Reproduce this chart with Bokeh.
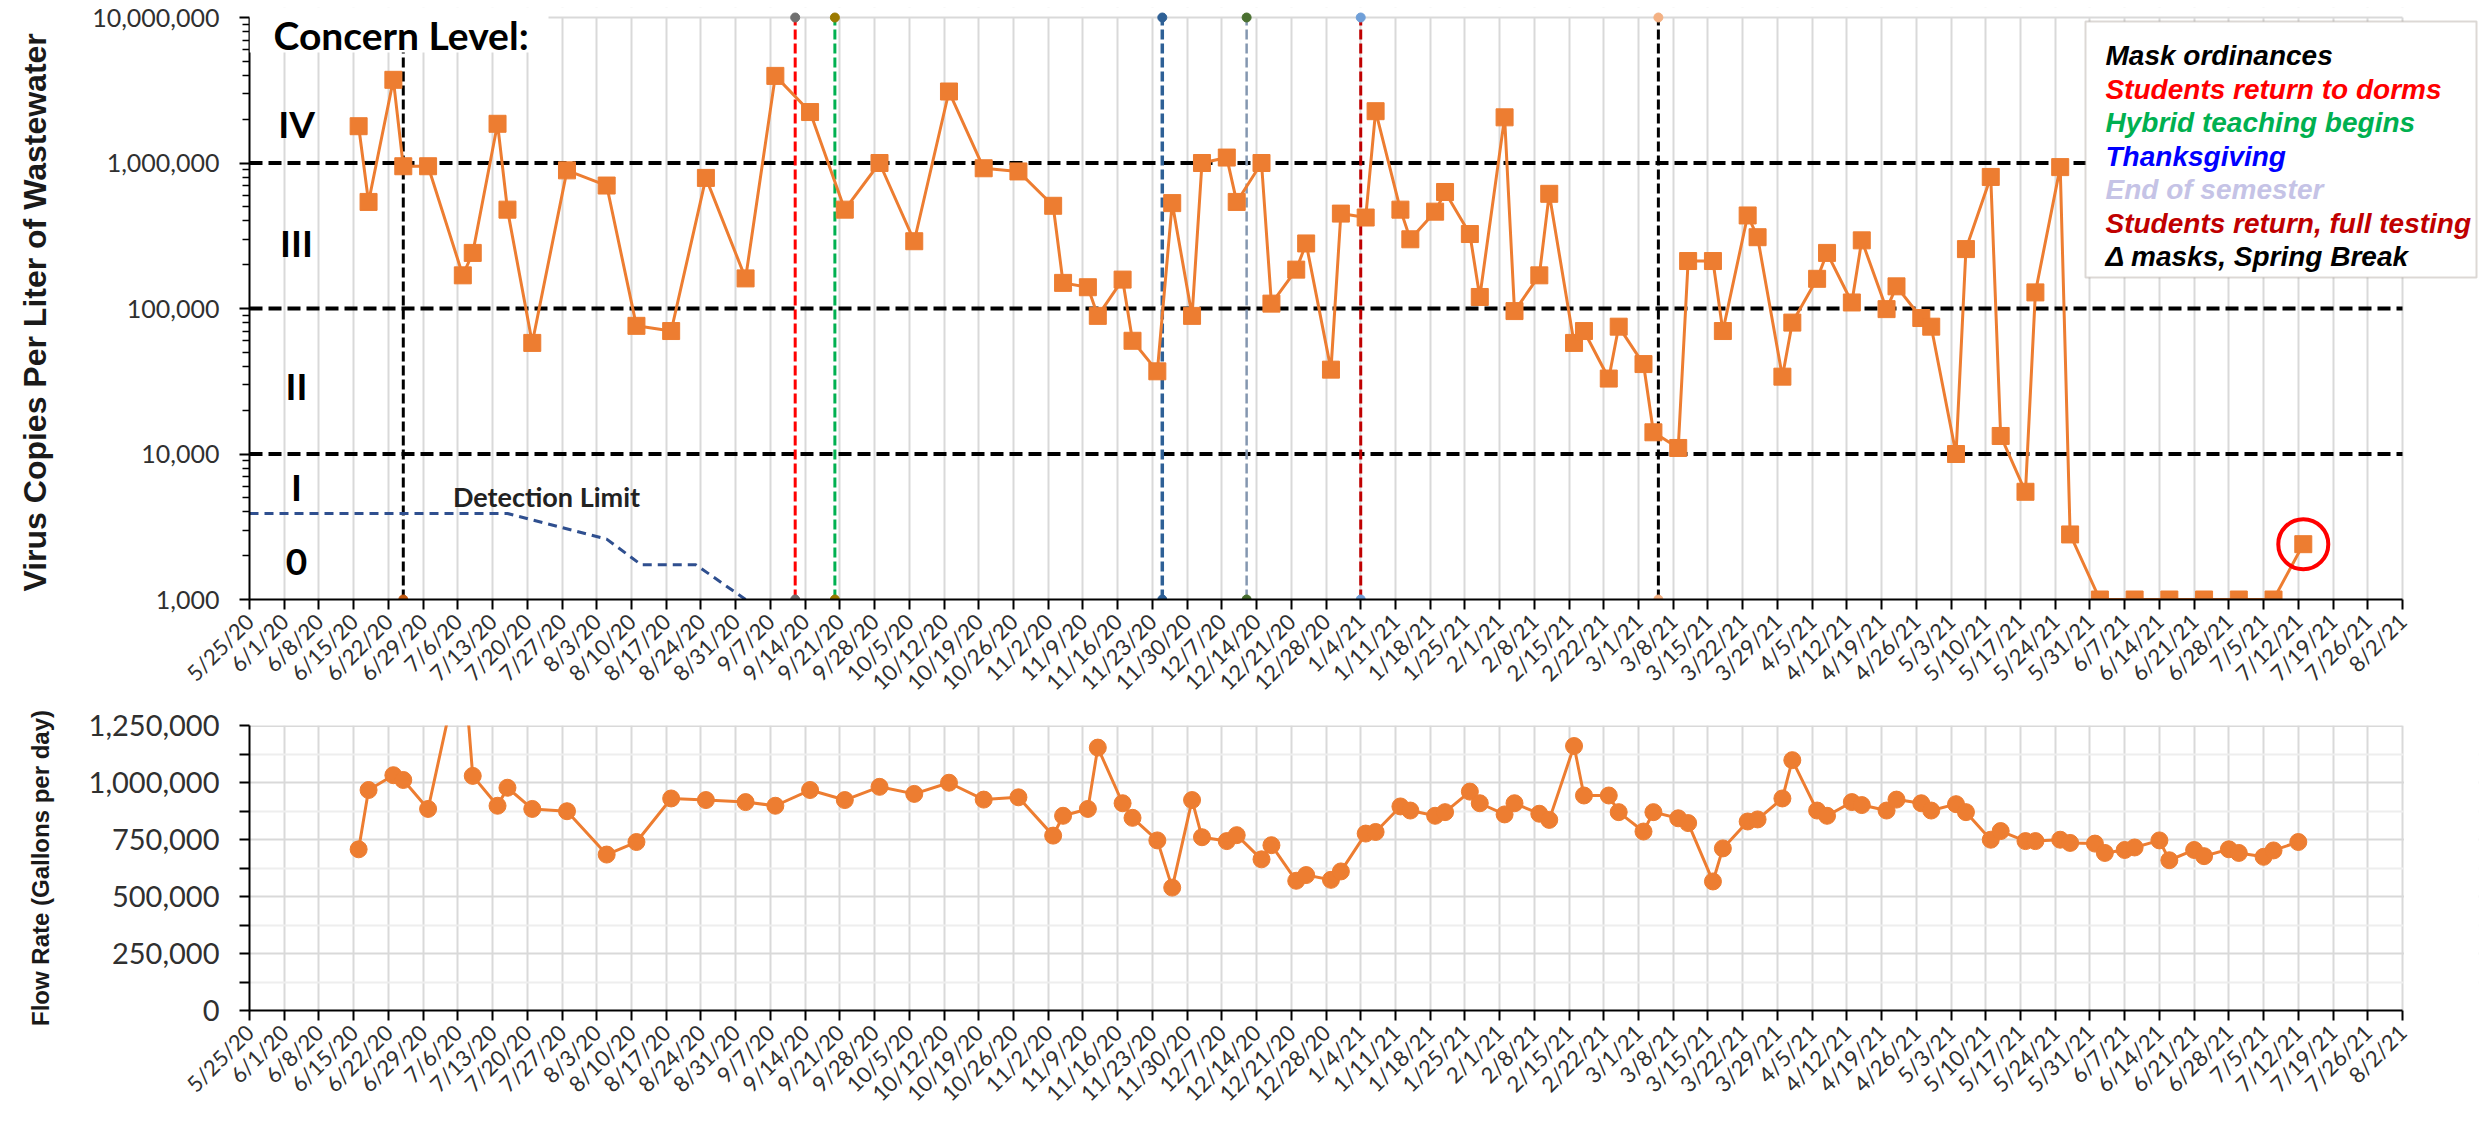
import math
import pandas as pd
from bokeh.plotting import figure
from bokeh.layouts import column
from bokeh.models import (FixedTicker, NumeralTickFormatter, Label, BoxAnnotation, Range1d)
from bokeh.embed import file_html
from bokeh.resources import INLINE

# ---------------- data ----------------
AXIS_START = "2020-05-25"
AXIS_END = "2021-08-02"

virus_dates = [
    "2020-06-16", "2020-06-18", "2020-06-23", "2020-06-25", "2020-06-30", "2020-07-07", "2020-07-09",
    "2020-07-14", "2020-07-16", "2020-07-21", "2020-07-28", "2020-08-05", "2020-08-11", "2020-08-18",
    "2020-08-25", "2020-09-02", "2020-09-08", "2020-09-15", "2020-09-22", "2020-09-29", "2020-10-06",
    "2020-10-13", "2020-10-20", "2020-10-27", "2020-11-03", "2020-11-05", "2020-11-10", "2020-11-12",
    "2020-11-17", "2020-11-19", "2020-11-24", "2020-11-27", "2020-12-01", "2020-12-03", "2020-12-08",
    "2020-12-10", "2020-12-15", "2020-12-17", "2020-12-22", "2020-12-24", "2020-12-29", "2020-12-31",
    "2021-01-05", "2021-01-07", "2021-01-12", "2021-01-14", "2021-01-19", "2021-01-21", "2021-01-26",
    "2021-01-28", "2021-02-02", "2021-02-04", "2021-02-09", "2021-02-11", "2021-02-16", "2021-02-18",
    "2021-02-23", "2021-02-25", "2021-03-02", "2021-03-04", "2021-03-09", "2021-03-11", "2021-03-16",
    "2021-03-18", "2021-03-23", "2021-03-25", "2021-03-30", "2021-04-01", "2021-04-06", "2021-04-08",
    "2021-04-13", "2021-04-15", "2021-04-20", "2021-04-22", "2021-04-27", "2021-04-29", "2021-05-04",
    "2021-05-06", "2021-05-11", "2021-05-13", "2021-05-18", "2021-05-20", "2021-05-25", "2021-05-27",
    "2021-06-02", "2021-06-09", "2021-06-16", "2021-06-23", "2021-06-30", "2021-07-07", "2021-07-13",
]
virus_copies = [
    1.79e6, 5.4e5, 3.73e6, 9.5e5, 9.5e5, 1.69e5, 2.41e5,
    1.86e6, 4.78e5, 5.8e4, 8.9e5, 7.0e5, 7.6e4, 7.0e4,
    7.9e5, 1.61e5, 3.97e6, 2.24e6, 4.78e5, 1.0e6, 2.9e5,
    3.1e6, 9.2e5, 8.75e5, 5.08e5, 1.5e5, 1.4e5, 8.9e4,
    1.58e5, 6.0e4, 3.7e4, 5.3e5, 8.9e4, 1.0e6, 1.09e6,
    5.4e5, 1.0e6, 1.08e5, 1.85e5, 2.8e5, 3.8e4, 4.49e5,
    4.22e5, 2.27e6, 4.78e5, 2.99e5, 4.63e5, 6.32e5, 3.25e5,
    1.2e5, 2.06e6, 9.6e4, 1.69e5, 6.14e5, 5.8e4, 7.0e4,
    3.3e4, 7.5e4, 4.15e4, 1.41e4, 1.1e4, 2.12e5, 2.12e5,
    7.0e4, 4.36e5, 3.09e5, 3.4e4, 8.0e4, 1.6e5, 2.41e5,
    1.1e5, 2.94e5, 9.9e4, 1.42e5, 8.6e4, 7.5e4, 1.0e4,
    2.56e5, 8.02e5, 1.33e4, 5.5e3, 1.29e5, 9.37e5, 2.8e3,
    1.0e3, 1.0e3, 1.0e3, 1.0e3, 1.0e3, 1.0e3, 2.4e3,
]

flow_dates = [
    "2020-06-16", "2020-06-18", "2020-06-23", "2020-06-25", "2020-06-30", "2020-07-07", "2020-07-09",
    "2020-07-14", "2020-07-16", "2020-07-21", "2020-07-28", "2020-08-05", "2020-08-11", "2020-08-18",
    "2020-08-25", "2020-09-02", "2020-09-08", "2020-09-15", "2020-09-22", "2020-09-29", "2020-10-06",
    "2020-10-13", "2020-10-20", "2020-10-27", "2020-11-03", "2020-11-05", "2020-11-10", "2020-11-12",
    "2020-11-17", "2020-11-19", "2020-11-24", "2020-11-27", "2020-12-01", "2020-12-03", "2020-12-08",
    "2020-12-10", "2020-12-15", "2020-12-17", "2020-12-22", "2020-12-24", "2020-12-29", "2020-12-31",
    "2021-01-05", "2021-01-07", "2021-01-12", "2021-01-14", "2021-01-19", "2021-01-21", "2021-01-26",
    "2021-01-28", "2021-02-02", "2021-02-04", "2021-02-09", "2021-02-11", "2021-02-16", "2021-02-18",
    "2021-02-23", "2021-02-25", "2021-03-02", "2021-03-04", "2021-03-09", "2021-03-11", "2021-03-16",
    "2021-03-18", "2021-03-23", "2021-03-25", "2021-03-30", "2021-04-01", "2021-04-06", "2021-04-08",
    "2021-04-13", "2021-04-15", "2021-04-20", "2021-04-22", "2021-04-27", "2021-04-29", "2021-05-04",
    "2021-05-06", "2021-05-11", "2021-05-13", "2021-05-18", "2021-05-20", "2021-05-25", "2021-05-27",
    "2021-06-01", "2021-06-03", "2021-06-07", "2021-06-09", "2021-06-14", "2021-06-16", "2021-06-21",
    "2021-06-23", "2021-06-28", "2021-06-30", "2021-07-05", "2021-07-07", "2021-07-12",
]
flow_gpd = [
    707000, 967000, 1032000, 1011000, 884000, 1580000, 1029000,
    898000, 977000, 884000, 874000, 684000, 739000, 930000,
    923000, 914000, 898000, 967000, 923000, 981000, 950000,
    999000, 925000, 935000, 767000, 854000, 884000, 1153000,
    909000, 845000, 746000, 539000, 923000, 760000, 743000,
    769000, 663000, 725000, 569000, 594000, 573000, 610000,
    776000, 783000, 895000, 877000, 854000, 870000, 960000,
    909000, 860000, 909000, 863000, 836000, 1160000, 943000,
    943000, 870000, 785000, 870000, 843000, 822000, 566000,
    711000, 829000, 838000, 930000, 1098000, 877000, 854000,
    914000, 901000, 877000, 925000, 909000, 877000, 905000,
    870000, 749000, 787000, 743000, 743000, 749000, 735000,
    732000, 691000, 704000, 715000, 746000, 659000, 704000,
    677000, 707000, 691000, 674000, 702000, 739000,
]

detect_dates = ["2020-05-25", "2020-07-16", "2020-08-05", "2020-08-12", "2020-08-23", "2020-09-02"]
detect_limit = [3900, 3900, 2600, 1730, 1730, 1000]

concern_thresholds = [1e4, 1e5, 1e6]
concern_levels = ["IV", "III", "II", "I", "0"]
y_axis_ticks = [1e3, 1e4, 1e5, 1e6, 1e7]
flow_ticks = [0, 250000, 500000, 750000, 1000000, 1250000]

event_names = ["Mask ordinances", "Students return to dorms", "Hybrid teaching begins",
               "Thanksgiving", "End of semester", "Students return, full testing",
               "\u0394 masks, Spring Break"]
event_dates = ["2020-06-25", "2020-09-12", "2020-09-20", "2020-11-25", "2020-12-12",
               "2021-01-04", "2021-03-05"]

# ---------------- styles ----------------
ORANGE = "#ed7d31"
GRID = "#d9d9d9"
event_line_colors = ["#000000", "#ff0000", "#00b050", "#2e6096", "#8497b0", "#c00000", "#000000"]
event_dot_colors = ["#c55a11", "#707070", "#9c7a00", "#2e6096", "#4a7030", "#6f9fd8", "#f4b183"]
event_text_colors = ["#000000", "#ff0000", "#00b050", "#0000ff", "#c5c3e6", "#c00000", "#000000"]
event_line_widths = [3, 3, 3, 3.5, 2.5, 3, 3]

start = pd.Timestamp(AXIS_START)
end = pd.Timestamp(AXIS_END)


def to_days(ds):
    return [(pd.Timestamp(d) - start).days for d in ds]


total_days = (end - start).days
tick_dates = pd.date_range(start, end, freq="7D")
tick_days = [(d - start).days for d in tick_dates]
tick_labels = [f"{d.month}/{d.day}/{d.year % 100}" for d in tick_dates]

# layout geometry (page pixels)
PAGE_W = 2484
FL, FR = 249.0, 2402.0          # axis extent (5/25/20 .. 8/2/21)
FT, FB = 17.0, 599.0            # top chart: 10,000,000 .. 1,000
DEC = (FB - FT) / 4.0
TOP_FRAME_TOP = 7.0             # extra room above 10M for the "Concern Level:" text
FRAME_RIGHT = 2478.0            # frames run past 8/2/21 to leave room for the legend box


def px_x(px):
    return (px - FL) / (FR - FL) * total_days


def px_y(py):
    return 10 ** (7 - (py - FT) / DEC)


X_END = px_x(FRAME_RIGHT)


def style_x_axis(p):
    ax = p.xaxis[0]
    ax.ticker = FixedTicker(ticks=tick_days)
    ax.major_label_overrides = {int(d): lab for d, lab in zip(tick_days, tick_labels)}
    ax.major_label_orientation = math.pi / 4
    ax.major_label_text_font = "Lato"
    ax.major_label_text_font_size = "22px"
    ax.major_label_text_color = "#303030"
    ax.major_label_standoff = 8
    ax.axis_line_color = "black"
    ax.axis_line_width = 2
    ax.major_tick_line_color = "black"
    ax.major_tick_line_width = 2
    ax.major_tick_out = 10
    ax.major_tick_in = 0
    ax.minor_tick_line_color = None
    ax.bounds = (0, total_days)
    p.xgrid.grid_line_color = GRID
    p.xgrid.grid_line_width = 2
    p.outline_line_color = None
    p.background_fill_color = "white"
    p.border_fill_color = "white"


def style_y_axis(ax, size):
    ax.formatter = NumeralTickFormatter(format="0,0")
    ax.major_label_text_font = "Lato"
    ax.major_label_text_font_size = size
    ax.major_label_text_color = "#303030"
    ax.major_label_standoff = 20
    ax.axis_line_color = "black"
    ax.axis_line_width = 2
    ax.major_tick_line_color = "black"
    ax.major_tick_line_width = 2
    ax.major_tick_out = 10
    ax.major_tick_in = 0
    ax.minor_tick_line_color = "black"
    ax.minor_tick_in = 0
    ax.axis_label_text_font = "Liberation Sans"
    ax.axis_label_text_font_style = "bold"
    ax.axis_label_text_color = "#1a1a1a"


# ---------------- top chart ----------------
y_top_end = px_y(TOP_FRAME_TOP)
p1 = figure(width=PAGE_W, height=708, y_axis_type="log",
            x_range=Range1d(0, X_END), y_range=Range1d(1e3, y_top_end),
            output_backend="svg", toolbar_location=None,
            min_border_left=int(FL), min_border_right=int(PAGE_W - FRAME_RIGHT),
            min_border_top=int(TOP_FRAME_TOP), min_border_bottom=109)
style_x_axis(p1)
p1.ygrid.grid_line_color = None

ya = p1.yaxis[0]
ya.ticker = FixedTicker(ticks=y_axis_ticks,
                        minor_ticks=[m * 10 ** e for e in range(3, 7) for m in range(2, 10)])
style_y_axis(ya, "25px")
ya.bounds = (y_axis_ticks[0], y_axis_ticks[-1])
ya.minor_tick_line_width = 1.5
ya.minor_tick_out = 7
# two no-break spaces keep the title centred on the 1,000..10,000,000 span
ya.axis_label = "Virus Copies Per Liter of Wastewater\u00a0\u00a0"
ya.axis_label_text_font_size = "32px"
ya.axis_label_standoff = 36

# hide grid above the 10M line and right of 8/2/21
p1.add_layout(BoxAnnotation(left=0, right=X_END, bottom=y_axis_ticks[-1], top=y_top_end,
                            fill_color="white", fill_alpha=1.0, line_color=None, level="underlay"))
p1.add_layout(BoxAnnotation(left=px_x(FR + 1.5), right=X_END, bottom=1e3, top=y_top_end,
                            fill_color="white", fill_alpha=1.0, line_color=None, level="underlay"))

# top border line at 10M
p1.segment(x0=[0], y0=[y_axis_ticks[-1]], x1=[total_days], y1=[y_axis_ticks[-1]],
           line_color=GRID, line_width=2)

# concern thresholds
n_t = len(concern_thresholds)
p1.segment(x0=[0] * n_t, y0=concern_thresholds, x1=[total_days] * n_t, y1=concern_thresholds,
           line_color="black", line_width=4, line_dash="13 6")

# event lines
ev_days = to_days(event_dates)
n_e = len(ev_days)
p1.segment(x0=ev_days, y0=[y_axis_ticks[0]] * n_e, x1=ev_days, y1=[y_axis_ticks[-1]] * n_e,
           line_color=event_line_colors, line_width=event_line_widths, line_dash="10 4")

# detection limit
p1.line(to_days(detect_dates), detect_limit, line_color="#2f4f8f", line_width=3, line_dash="9 6")

# series
vx = to_days(virus_dates)
p1.line(vx, virus_copies, line_color=ORANGE, line_width=3)
p1.scatter(vx, virus_copies, marker="square", size=17, fill_color=ORANGE, line_color=ORANGE)

# event end dots
p1.scatter(ev_days, [y_axis_ticks[-1]] * n_e, size=9, color=event_dot_colors)
p1.scatter(ev_days, [y_axis_ticks[0]] * n_e, size=9, color=event_dot_colors)

# highlight circle on latest sample
p1.scatter([vx[-1]], [virus_copies[-1]], marker="circle", size=50, fill_color=None,
           line_color="#ff0000", line_width=4)

# white box behind "Concern Level:"
p1.add_layout(BoxAnnotation(left=0, right=px_x(548), top=y_top_end, bottom=px_y(52),
                            fill_color="white", fill_alpha=1.0, line_color=None))
p1.add_layout(Label(x=px_x(273), y=px_y(34), text="Concern Level:", text_font="Lato",
                    text_font_size="39px", text_font_style="bold", text_color="black",
                    text_baseline="alphabetic", text_align="left"))

level_y_px = [123, 242, 385, 486, 561]
for lab, py in zip(concern_levels, level_y_px):
    p1.add_layout(Label(x=px_x(296), y=px_y(py), text=lab, text_font="Lato",
                        text_font_size="37px", text_font_style="bold", text_color="black",
                        text_baseline="middle", text_align="center"))

p1.add_layout(Label(x=px_x(546), y=px_y(496), text="Detection Limit", text_font="Lato",
                    text_font_size="27px", text_font_style="bold", text_color="#222222",
                    text_baseline="middle", text_align="center"))

# legend box
p1.add_layout(BoxAnnotation(left=px_x(2085), right=px_x(2476), top=px_y(21), bottom=px_y(277),
                            fill_color="white", fill_alpha=1.0, line_color="#8b7d74",
                            line_width=2))
for i, (name, col) in enumerate(zip(event_names, event_text_colors)):
    p1.add_layout(Label(x=px_x(2105), y=px_y(55 + 33.5 * i), text=name,
                        text_font="Liberation Sans", text_font_size="28px",
                        text_font_style="bold italic", text_color=col,
                        text_baseline="alphabetic", text_align="left"))

# ---------------- bottom chart ----------------
p2 = figure(width=PAGE_W, height=410, x_range=Range1d(0, X_END),
            y_range=Range1d(flow_ticks[0], flow_ticks[-1]),
            output_backend="svg", toolbar_location=None,
            min_border_left=int(FL), min_border_right=int(PAGE_W - FRAME_RIGHT),
            min_border_top=17, min_border_bottom=90)
style_x_axis(p2)
yb = p2.yaxis[0]
yb.ticker = FixedTicker(ticks=flow_ticks,
                        minor_ticks=[(a + b) / 2 for a, b in zip(flow_ticks[:-1], flow_ticks[1:])])
style_y_axis(yb, "29px")
yb.minor_tick_line_width = 2
yb.minor_tick_out = 10
yb.axis_label = "Flow Rate (Gallons per day)"
yb.axis_label_text_font_size = "24px"
yb.axis_label_standoff = 32
p2.ygrid.grid_line_color = GRID
p2.ygrid.grid_line_width = 2
p2.ygrid.minor_grid_line_color = "#eeeeee"
p2.ygrid.minor_grid_line_width = 2

# hide grid right of 8/2/21, top border line
p2.add_layout(BoxAnnotation(left=px_x(FR + 1.5), right=X_END, bottom=flow_ticks[0],
                            top=flow_ticks[-1], fill_color="white", fill_alpha=1.0,
                            line_color=None, level="underlay"))
p2.segment(x0=[0], y0=[flow_ticks[-1]], x1=[total_days], y1=[flow_ticks[-1]],
           line_color=GRID, line_width=3)

fx = to_days(flow_dates)
p2.line(fx, flow_gpd, line_color=ORANGE, line_width=3)
p2.scatter(fx, flow_gpd, marker="circle", size=17, fill_color=ORANGE, line_color=ORANGE)

layout = column(p1, p2)
open("out.html", "w").write(file_html(layout, INLINE))
